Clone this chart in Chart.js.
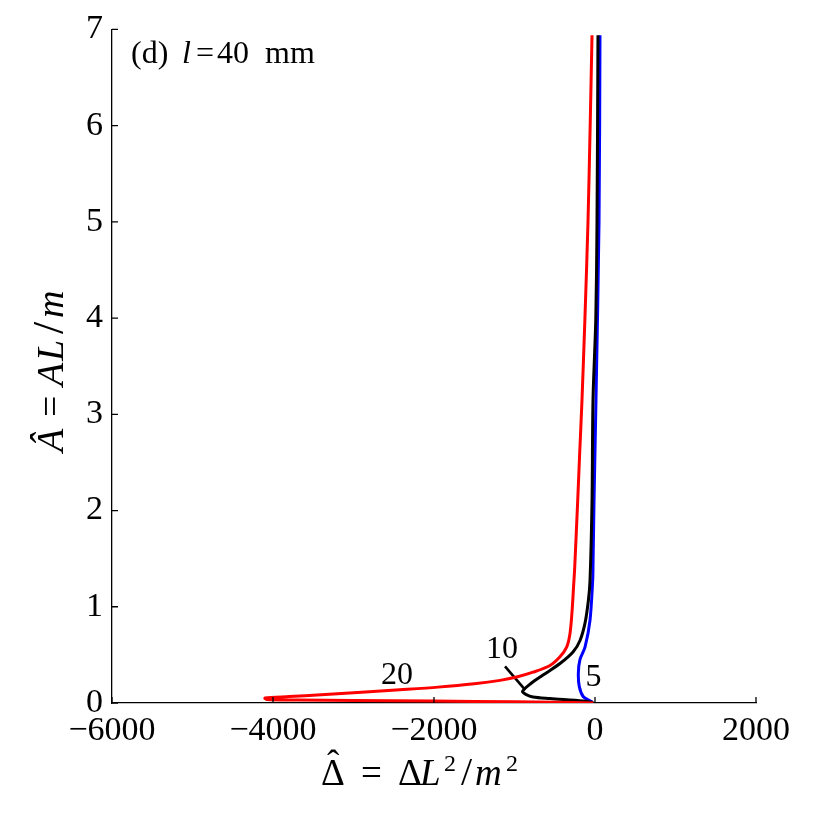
<!DOCTYPE html>
<html>
<head>
<meta charset="utf-8">
<script src="https://cdn.jsdelivr.net/npm/chart.js@4.4.1/dist/chart.umd.min.js"></script>
<style>
  html, body { margin: 0; padding: 0; background: #fff; }
  #wrap { width: 830px; height: 830px; position: relative; }
</style>
</head>
<body>
<div id="wrap"><canvas id="c" width="830" height="830"></canvas></div>
<script>
// ---- data (Δ̂ , Â) ----
const xTicks = [-6000, -4000, -2000, 0, 2000];
const yTicks = [0, 1, 2, 3, 4, 5, 6, 7];

const delta20 = [-37, -60, -87, -125, -162, -190, -215, -252, -264, -287, -311, -352, -435, -559, -770, -973, -1180, -1500, -1950, -2425, -2900, -3400, -3800, -4100, -4080, -3700, -3000, -2000, -1000, -500, -20];
const a20     = [6.94, 6.0, 5.0, 4.0, 3.14, 2.6, 2.10, 1.41, 1.24, 0.93, 0.72, 0.58, 0.48, 0.39, 0.32, 0.27, 0.235, 0.20, 0.165, 0.137, 0.111, 0.086, 0.067, 0.052, 0.036, 0.031, 0.026, 0.02, 0.012, 0.008, 0.0];

const delta10 = [37, 25, 10, -25, -37, -62, -83, -124, -186, -273, -435, -646, -800, -900, -860, -770, -559, -149, -25];
const a10     = [6.94, 5.0, 4.0, 3.14, 2.10, 1.27, 1.06, 0.83, 0.65, 0.53, 0.41, 0.29, 0.2, 0.12, 0.09, 0.062, 0.046, 0.02, 0.005];

const delta5 = [62, 50, 12, -12, -25, -29, -62, -124, -187, -207, -195, -145, -62, -25];
const a5     = [6.94, 5.0, 3.14, 2.10, 1.41, 1.27, 0.86, 0.58, 0.45, 0.31, 0.17, 0.065, 0.024, 0.005];

const leader10X = [-1118, -870];
const leader10Y = [0.38, 0.14];

const curveLabels = ['20', '10', '5'];
const labelX = [-2460, -1155, -19];
const labelY = [0.28, 0.55, 0.26];

const FONT = '"Liberation Serif", "Times New Roman", serif';

function pts(xs, ys) { return xs.map((x, i) => ({ x: x, y: ys[i] })); }

const textPlugin = {
  id: 'texts',
  afterDraw(chart) {
    const ctx = chart.ctx;
    const xs = chart.scales.x, ys = chart.scales.y;
    ctx.save();
    ctx.fillStyle = '#000';
    ctx.strokeStyle = '#000';
    // inward tick marks
    ctx.lineWidth = 1.3;
    ctx.beginPath();
    xTicks.forEach(v => {
      const px = xs.getPixelForValue(v);
      ctx.moveTo(px, ys.bottom); ctx.lineTo(px, ys.bottom - 6);
    });
    yTicks.forEach(v => {
      const py = ys.getPixelForValue(v);
      ctx.moveTo(xs.left, py); ctx.lineTo(xs.left + 6, py);
    });
    ctx.stroke();

    // curve labels
    ctx.font = '32px ' + FONT;
    ctx.textAlign = 'center';
    ctx.textBaseline = 'middle';
    curveLabels.forEach((t, i) => {
      ctx.fillText(t, xs.getPixelForValue(labelX[i]), ys.getPixelForValue(labelY[i]));
    });

    // panel title: (d) l=40 mm
    ctx.textAlign = 'left';
    ctx.textBaseline = 'alphabetic';
    const tParts = [
      { t: '(d)', it: false, x: 131 },
      { t: 'l', it: true, x: 182 },
      { t: '=', it: false, x: 196 },
      { t: '40', it: false, x: 217 },
      { t: 'mm', it: false, x: 265 }
    ];
    tParts.forEach(p => {
      ctx.font = (p.it ? 'italic ' : '') + '32px ' + FONT;
      ctx.fillText(p.t, p.x, 63);
    });

    // x-axis title: Δ̂ = ΔL²/m²
    const xb = 785;
    const xParts = [
      { t: 'Δ', it: false, x: 321, y: xb, s: 37 },
      { t: 'ˆ', it: false, x: 327, y: xb - 9, s: 37 },
      { t: '=', it: false, x: 361, y: xb, s: 37 },
      { t: 'Δ', it: false, x: 398, y: xb, s: 37 },
      { t: 'L', it: true, x: 420, y: xb, s: 37 },
      { t: '2', it: false, x: 444, y: xb - 14, s: 24 },
      { t: '/', it: false, x: 461, y: xb, s: 40 },
      { t: 'm', it: true, x: 475, y: xb, s: 37 },
      { t: '2', it: false, x: 506, y: xb - 14, s: 24 }
    ];
    xParts.forEach(p => {
      ctx.font = (p.it ? 'italic ' : '') + p.s + 'px ' + FONT;
      ctx.fillText(p.t, p.x, p.y);
    });

    // y-axis title: Â = AL/m (rotated)
    ctx.translate(63, 455);
    ctx.rotate(-Math.PI / 2);
    const yParts = [
      { t: 'Â', it: true, x: 3, s: 38 },
      { t: '=', it: false, x: 38, s: 38 },
      { t: 'A', it: true, x: 69, s: 38 },
      { t: 'L', it: true, x: 94, s: 38 },
      { t: '/', it: false, x: 121, s: 44 },
      { t: 'm', it: true, x: 137, s: 38 }
    ];
    yParts.forEach(p => {
      ctx.font = (p.it ? 'italic ' : '') + p.s + 'px ' + FONT;
      ctx.fillText(p.t, p.x, 0);
    });
    ctx.restore();
  }
};

const lineDs = (label, data, color, order) => ({
  label: label,
  data: data,
  showLine: true,
  borderColor: color,
  backgroundColor: color,
  borderWidth: 3,
  pointRadius: 0,
  tension: 0.3,
  fill: false,
  order: order
});

new Chart(document.getElementById('c'), {
  type: 'scatter',
  data: {
    datasets: [
      lineDs('20', pts(delta20, a20), '#ff0000', 0),
      lineDs('10', pts(delta10, a10), '#000000', 1),
      lineDs('5', pts(delta5, a5), '#0000ff', 2),
      Object.assign(lineDs('10 leader', pts(leader10X, leader10Y), '#000000', 1), { tension: 0, borderWidth: 2.6 })
    ]
  },
  options: {
    responsive: false,
    animation: false,
    devicePixelRatio: 1,
    layout: { padding: { top: 27, right: 74, left: 0, bottom: 0 } },
    plugins: { legend: { display: false }, tooltip: { enabled: false }, title: { display: false } },
    scales: {
      x: {
        type: 'linear',
        min: -6000, max: 2000,
        afterBuildTicks: s => { s.ticks = xTicks.map(v => ({ value: v })); },
        afterFit: s => { s.height = 127; },
        ticks: {
          color: '#000',
          padding: 8,
          maxRotation: 0,
          font: { family: FONT, size: 34 },
          callback: v => (v < 0 ? '\u2212' + Math.abs(v) : String(v))
        },
        grid: { display: true, drawOnChartArea: false, drawTicks: false },
        border: { display: true, color: '#000', width: 1.3 }
      },
      y: {
        type: 'linear',
        min: 0, max: 7,
        afterBuildTicks: s => { s.ticks = yTicks.map(v => ({ value: v })); },
        afterFit: s => { s.width = 112; },
        ticks: {
          color: '#000',
          padding: 9,
          font: { family: FONT, size: 34 },
          callback: v => String(v)
        },
        grid: { display: true, drawOnChartArea: false, drawTicks: false },
        border: { display: true, color: '#000', width: 1.3 }
      }
    }
  },
  plugins: [textPlugin]
});
</script>
</body>
</html>
